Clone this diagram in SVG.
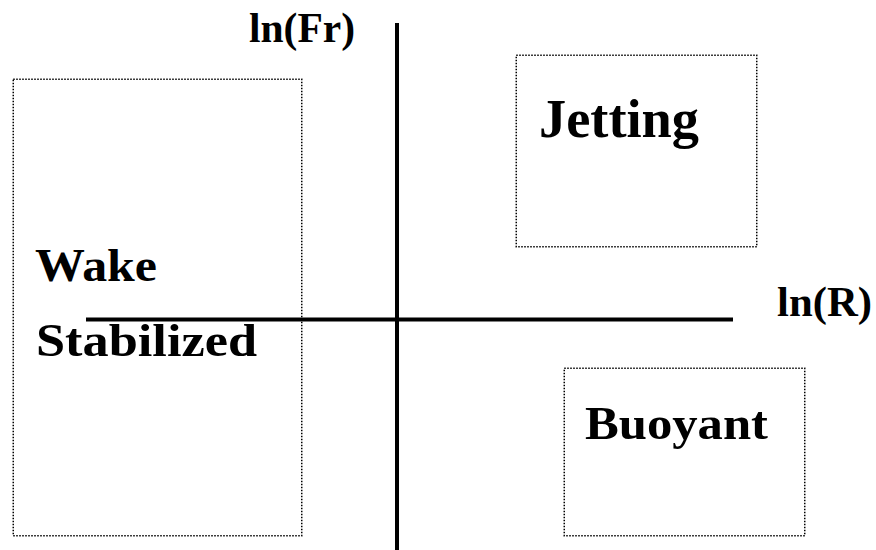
<svg xmlns="http://www.w3.org/2000/svg" width="876" height="550" viewBox="0 0 876 550">
  <style>
    .region { fill: none; stroke: #000; stroke-width: 1.5; stroke-dasharray: 1.5 1.5; }
    .axis { stroke: #000; stroke-width: 4; fill: none; }
    .lbl { font-family: "Liberation Serif", "DejaVu Serif", serif; font-weight: bold; fill: #000; }
  </style>
  <rect width="876" height="550" fill="#fff"/>

  <!-- Regime regions -->
  <g id="wake-stabilized">
    <rect class="region" x="13.25" y="79.25" width="288.5" height="456.5"/>
    <text class="lbl" x="35" y="281" font-size="46" textLength="122" lengthAdjust="spacingAndGlyphs">Wake</text>
    <text class="lbl" x="36" y="356" font-size="46" textLength="221" lengthAdjust="spacingAndGlyphs">Stabilized</text>
  </g>
  <g id="jetting">
    <rect class="region" x="516.25" y="55.25" width="240.5" height="191.5"/>
    <text class="lbl" x="539" y="137" font-size="54" textLength="160" lengthAdjust="spacingAndGlyphs">Jetting</text>
  </g>
  <g id="buoyant">
    <rect class="region" x="564.25" y="368.25" width="240.5" height="167.5"/>
    <text class="lbl" x="585" y="439" font-size="46" textLength="183" lengthAdjust="spacingAndGlyphs">Buoyant</text>
  </g>

  <!-- Axes -->
  <g id="axes">
    <line class="axis" x1="397" y1="23" x2="397" y2="550"/>
    <line class="axis" x1="86" y1="319.5" x2="733" y2="319.5"/>
  </g>
  <g id="axis-labels">
    <text class="lbl" x="249" y="42" font-size="42" textLength="106" lengthAdjust="spacingAndGlyphs">ln(Fr)</text>
    <text class="lbl" x="777" y="316" font-size="42" textLength="95" lengthAdjust="spacingAndGlyphs">ln(R)</text>
  </g>
</svg>
